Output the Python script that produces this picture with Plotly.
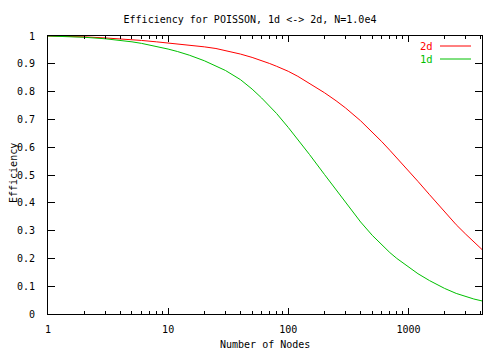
import plotly.graph_objects as go

nodes = [1, 1.5, 2, 3, 4, 5, 6, 8, 10, 12, 15, 20, 25, 30, 40, 50, 60, 70, 80, 100,
         120, 150, 200, 250, 300, 400, 500, 600, 700, 800, 1000, 1200, 1500, 2000,
         2500, 3000, 3500, 4096]
eff_2d = [1.0, 0.999, 0.997, 0.993, 0.990, 0.987, 0.984, 0.979, 0.975, 0.9715, 0.9675,
          0.961, 0.955, 0.948, 0.935, 0.923, 0.912, 0.901, 0.891, 0.873, 0.855, 0.830,
          0.796, 0.767, 0.741, 0.695, 0.655, 0.620, 0.589, 0.562, 0.515, 0.477, 0.429,
          0.366, 0.321, 0.287, 0.259, 0.232]
eff_1d = [1.0, 0.998, 0.9955, 0.990, 0.9845, 0.979, 0.9735, 0.963, 0.953, 0.944, 0.931,
          0.911, 0.893, 0.876, 0.843, 0.809, 0.777, 0.748, 0.721, 0.671, 0.628, 0.574,
          0.502, 0.446, 0.400, 0.331, 0.283, 0.248, 0.221, 0.200, 0.168, 0.145, 0.120,
          0.092, 0.074, 0.062, 0.054, 0.047]

x_tickvals = [1, 10, 100, 1000]
x_ticktext = ["1", "10", "100", "1000"]
x_minor = [2, 3, 4, 5, 6, 7, 8, 9, 20, 30, 40, 50, 60, 70, 80, 90,
           200, 300, 400, 500, 600, 700, 800, 900, 2000, 3000, 4000]
y_tickvals = [0, 0.1, 0.2, 0.3, 0.4, 0.5, 0.6, 0.7, 0.8, 0.9, 1]
y_ticktext = ["0", "0.1", "0.2", "0.3", "0.4", "0.5", "0.6", "0.7", "0.8", "0.9", "1"]

RED = "#ff0000"
GREEN = "#00c000"
FONT = "DejaVu Sans Mono"

# plot area in pixels
L, R, T, B = 48, 482, 36, 314
PW, PH = R - L, B - T


def px(xp):
    return (xp - L) / PW


def py(yp):
    return 1 - (yp - T) / PH


fig = go.Figure()
fig.add_trace(go.Scatter(x=nodes, y=eff_2d, mode="lines", name="2d",
                         line=dict(color=RED, width=1), showlegend=False))
fig.add_trace(go.Scatter(x=nodes, y=eff_1d, mode="lines", name="1d",
                         line=dict(color=GREEN, width=1), showlegend=False))

axis_common = dict(showline=True, linecolor="black", linewidth=1, mirror="ticks",
                   ticks="inside", tickcolor="black", showgrid=False, zeroline=False,
                   automargin=False,
                   tickfont=dict(family=FONT, size=10, color="black"))

fig.update_xaxes(type="log", range=[0, 3.6124], tickvals=x_tickvals, ticktext=x_ticktext,
                 ticklen=6, ticklabelstandoff=6,
                 minor=dict(tickvals=x_minor, ticks="inside", ticklen=3, tickcolor="black",
                            showgrid=False),
                 **axis_common)
fig.update_yaxes(range=[0, 1], tickvals=y_tickvals, ticktext=y_ticktext, ticklen=7,
                 ticklabelstandoff=10,
                 **axis_common)

# axis titles
fig.add_annotation(xref="paper", yref="paper", x=0.5, y=py(344), text="Number of Nodes",
                   showarrow=False, xanchor="center", yanchor="middle",
                   font=dict(family=FONT, size=10, color="black"))
fig.add_annotation(xref="paper", yref="paper", x=px(13), y=py(173), text="Efficiency",
                   showarrow=False, xanchor="center", yanchor="middle", textangle=-90,
                   font=dict(family=FONT, size=10, color="black"))

# legend drawn manually (text left, line sample right, as in gnuplot)
legend_items = [("2d", RED), ("1d", GREEN)]
for i, (label, color) in enumerate(legend_items):
    yp = py(46 + 13 * i)
    fig.add_annotation(xref="paper", yref="paper", x=px(435), y=yp,
                       text=label, showarrow=False, xanchor="right", yanchor="middle",
                       font=dict(family=FONT, size=10.5, color=color))
    fig.add_shape(type="line", xref="paper", yref="paper",
                  x0=px(440), x1=px(471), y0=yp, y1=yp,
                  line=dict(color=color, width=1))

fig.update_layout(
    width=500, height=350,
    margin=dict(l=L, r=500 - R, t=T, b=350 - B, autoexpand=False),
    paper_bgcolor="white", plot_bgcolor="white",
    title=dict(text="Efficiency for POISSON, 1d <-> 2d, N=1.0e4",
               font=dict(family=FONT, size=10, color="black"),
               x=0.5, xanchor="center", y=1 - 19 / 350, yanchor="middle"),
)

fig.write_html("out.html")
